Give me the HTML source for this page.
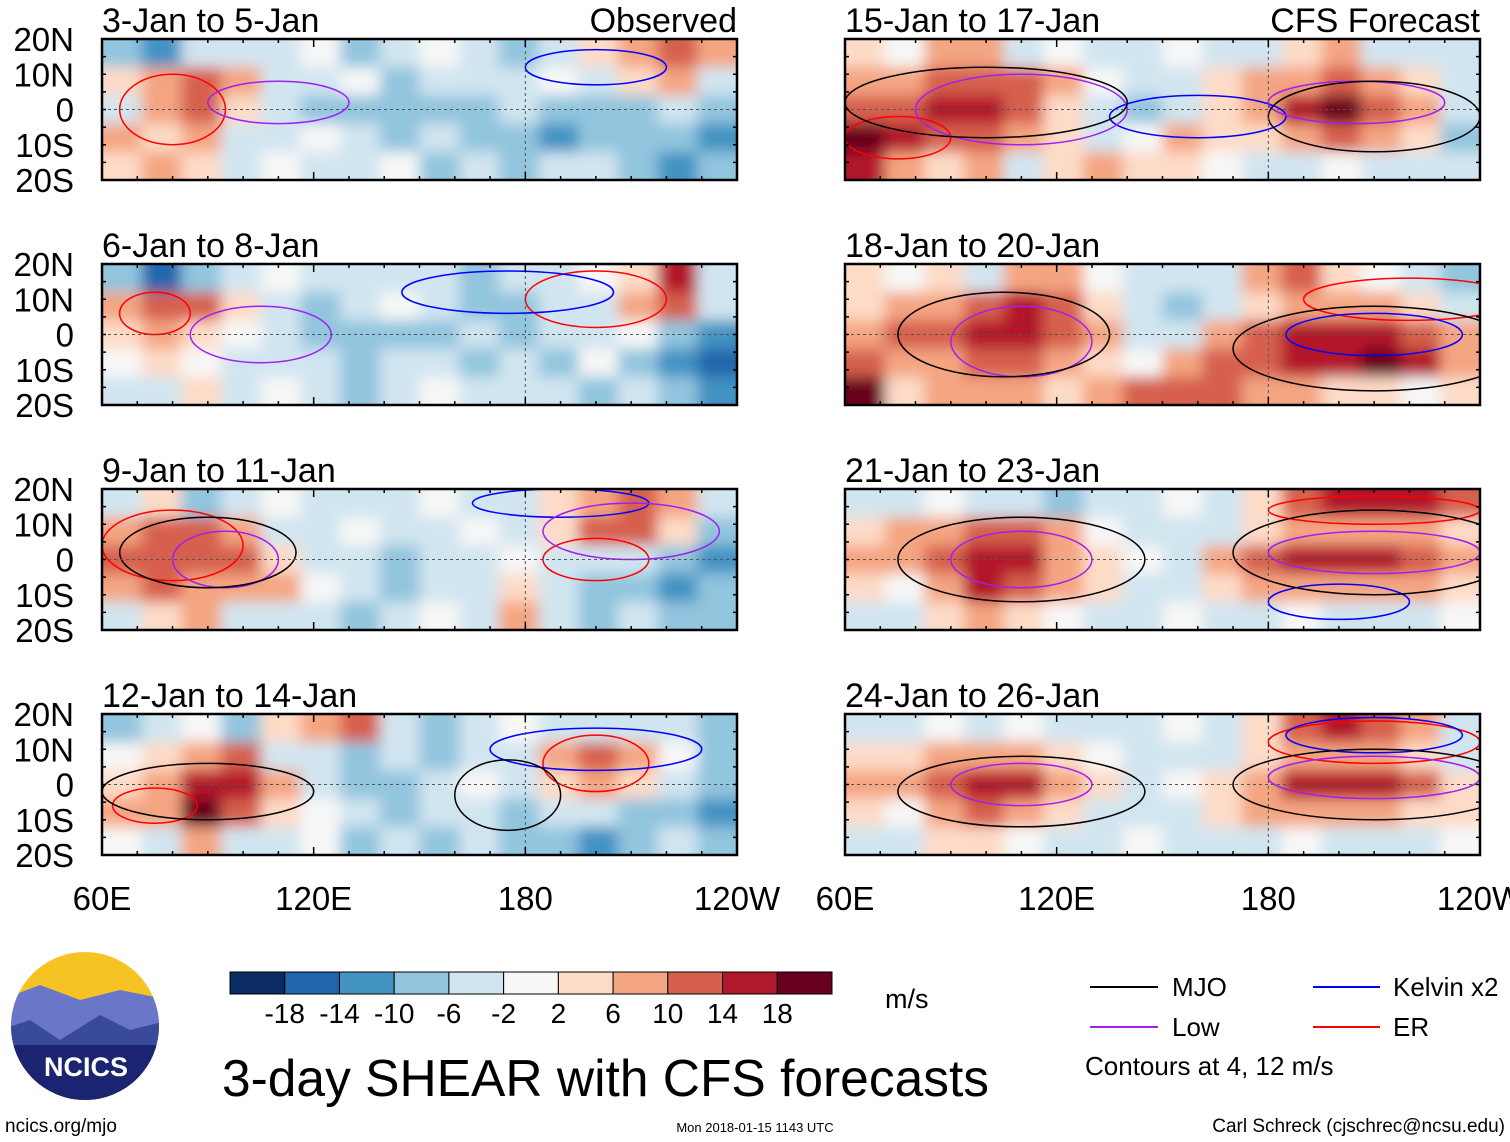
<!DOCTYPE html>
<html><head><meta charset="utf-8"><style>
body{margin:0;background:#fff;width:1510px;height:1142px;overflow:hidden;font-family:"Liberation Sans",sans-serif}
svg{position:absolute;left:0;top:0}
</style></head><body>
<svg id="chart" width="1510" height="1142" xmlns="http://www.w3.org/2000/svg">
<defs><filter id="blur" x="-5%" y="-5%" width="110%" height="110%"><feGaussianBlur stdDeviation="7"/></filter></defs>
</svg>
<script>
const panelTitles=["3-Jan to 5-Jan","6-Jan to 8-Jan","9-Jan to 11-Jan","12-Jan to 14-Jan","15-Jan to 17-Jan","18-Jan to 20-Jan","21-Jan to 23-Jan","24-Jan to 26-Jan"];
const latLabels=["20N","10N","0","10S","20S"];
const lonLabels=["60E","120E","180","120W"];
const levels=[-18,-14,-10,-6,-2,2,6,10,14,18];
const palette=["#0b2c63","#2166ac","#4393c3","#92c5de","#d1e5f0","#f7f7f7","#fddbc7","#f4a582","#d6604d","#b2182b","#67001f"];
const shear1=[[-8,-12,-6,-4,-6,-2,-8,-6,-2,-6,-8,-4,2,8,12,6],[2,8,10,6,-4,-6,-2,-8,-6,-4,-6,-2,-6,2,6,-4],[-4,6,10,4,-6,-8,-10,-8,-10,-8,-6,-8,-10,-8,-6,-8],[6,4,6,-4,-6,-2,-6,-8,-6,-8,-10,-12,-10,-8,-10,-14],[4,6,4,-6,-2,-4,-6,-2,-8,-6,-8,-6,-6,-8,-12,-8]];
const shear2=[[-8,-16,-10,-6,-2,-6,-4,-6,-6,-8,-6,-4,-2,4,14,-4],[8,12,10,4,-6,-8,-6,-2,-6,-8,-10,-6,-4,8,10,-6],[4,6,4,-2,-6,-8,-10,-8,-8,-6,-8,-6,-6,-2,-10,-14],[-2,4,-2,-6,-4,-6,-8,-6,-6,-8,-6,-8,-2,-8,-14,-18],[-4,-6,4,-6,-2,-6,-8,-6,-2,-6,-4,-6,-8,-6,-10,-12]];
const shear3=[[-6,4,-8,-6,-2,-6,-4,-6,-2,-6,-4,4,8,12,6,-6],[8,10,10,6,-4,-6,-2,-6,-4,-2,-6,4,10,10,4,-10],[10,12,12,10,4,-4,-6,-8,-6,-4,-2,-6,-4,-6,-8,-12],[8,10,8,6,8,-2,-6,-8,-6,-4,4,-6,-8,-10,-12,-10],[-4,4,6,-4,-6,-6,-8,-6,-2,-4,6,-6,-8,-6,-10,-8]];
const shear4=[[-8,-6,-2,-8,4,6,10,-6,-8,-6,-2,-6,-4,-6,-4,-10],[-2,4,8,10,-4,-6,-8,-6,-8,-6,-4,6,10,8,-2,-8],[4,8,16,14,6,-6,-8,-10,-6,-2,-6,4,8,4,-6,-10],[6,8,18,12,4,-2,-6,-8,-4,-6,-10,-6,-4,-8,-10,-12],[-2,-6,6,-4,-6,-2,-10,-6,-8,-6,-10,-8,-12,-8,-6,-10]];
const shear5=[[4,-2,6,8,-4,-2,-6,-4,-2,-6,-4,4,6,-4,-6,-4],[6,8,12,10,12,6,-2,-6,-4,4,6,8,10,8,4,-6],[12,10,16,16,12,4,-6,-8,-4,4,8,16,18,12,6,-6],[20,14,10,12,8,4,-6,-2,6,4,4,8,12,8,4,-8],[16,6,4,6,-4,4,6,4,4,-2,-4,-6,-2,-6,-4,-6]];
const shear6=[[4,-2,4,-6,6,8,-2,-6,-4,-6,6,10,4,-2,-6,-8],[4,6,8,12,14,10,4,-6,-8,-4,4,6,6,8,4,-4],[8,10,10,14,16,12,6,-4,-6,8,12,16,14,14,12,6],[12,6,8,12,12,6,4,-2,6,10,12,14,16,18,14,8],[18,4,6,8,6,4,8,10,12,10,8,6,4,4,-2,4]];
const shear7=[[-4,-6,-2,-4,-6,-8,-6,-4,-2,-6,4,10,16,14,16,12],[4,6,8,12,10,6,-2,-4,-6,-4,4,6,8,6,6,4],[6,8,12,16,14,8,4,-2,-4,6,10,14,14,14,12,8],[4,-2,8,14,12,8,4,-4,-6,4,6,8,8,8,6,4],[-6,-4,4,6,4,-2,-4,-6,-2,-4,-6,-2,-4,-6,-4,-2]];
const shear8=[[-4,-6,-2,-4,-2,-6,-4,-6,-2,-6,4,10,16,12,8,-4],[4,4,6,8,6,4,-2,-6,-4,-4,4,6,8,6,4,-4],[6,8,12,16,14,8,4,-4,-2,4,8,14,16,14,10,4],[4,-2,8,10,8,4,-4,-6,-4,4,6,8,8,6,4,4],[-6,-4,4,4,-2,-4,-6,-2,-4,-6,-4,-2,-4,-6,-4,-2]];
const fields=[shear1,shear2,shear3,shear4,shear5,shear6,shear7,shear8];
const cbLabels=["-18","-14","-10","-6","-2","2","6","10","14","18"];
// contour ellipses: [panel, lon, lat, lonRadius, latRadius]
const mjoContours=[[2,90,2,25,10],[3,90,-2,30,8],[3,175,-3,15,10],[4,100,2,40,10],[4,210,-2,30,10],[5,105,0,30,12],[5,210,-4,40,12],[6,110,0,35,12],[6,210,2,40,12],[7,110,-2,35,10],[7,210,0,40,10]];
const lowContours=[[0,110,2,20,6],[1,105,0,20,8],[2,95,0,15,8],[2,210,8,25,8],[4,110,0,30,10],[4,205,2,25,6],[5,110,-2,20,10],[6,110,0,20,8],[6,210,2,30,6],[7,110,0,20,6],[7,210,2,30,6]];
const kelvinContours=[[0,200,12,20,5],[1,175,12,30,6],[2,190,16,25,4],[3,200,10,30,6],[4,160,-2,25,6],[5,210,0,25,6],[6,200,-12,20,5],[7,210,14,25,5]];
const erContours=[[0,80,0,15,10],[1,75,6,10,6],[1,200,10,20,8],[2,80,4,20,10],[2,200,0,15,6],[3,75,-6,12,5],[3,200,6,15,8],[4,75,-8,15,6],[5,220,10,30,6],[6,210,14,30,4],[7,210,12,30,6]];

const NS="http://www.w3.org/2000/svg";
const svg=document.getElementById("chart");
function mk(tag,attrs,parent){const e=document.createElementNS(NS,tag);for(const k in attrs)e.setAttribute(k,attrs[k]);(parent||svg).appendChild(e);return e;}
function colorFor(v){let i=0;while(i<levels.length&&v>=levels[i])i++;return palette[i];}
const PW=635,PH=141;
const colX=[102,845],rowY=[39,264,489,714];
function xScale(x0,lon){return x0+(lon-60)/180*PW;}
function yScale(y0,lat){return y0+(20-lat)/40*PH;}
const inners=[];
fields.forEach((field,p)=>{
  const x0=colX[Math.floor(p/4)],y0=rowY[p%4];
  const g=mk("g",{});
  
  
  const cp=mk("clipPath",{id:"cp"+p},g);mk("rect",{x:x0,y:y0,width:PW,height:PH},cp);
  const inner=mk("g",{"clip-path":"url(#cp"+p+")"},g);
  inners.push({g,inner,x0,y0});
  const bg=mk("g",{filter:"url(#blur)"},inner);
  const nr=field.length,nc=field[0].length;
  const dLon=180/nc,dLat=40/nr;
  field.forEach((row,r)=>row.forEach((v,c)=>{
    const xa=xScale(x0,60+c*dLon),xb=xScale(x0,60+(c+1)*dLon);
    const ya=yScale(y0,20-r*dLat),yb=yScale(y0,20-(r+1)*dLat);
    const pad=(r==0?-20:0),padb=(r==nr-1?20:0),pl=(c==0?-20:0),pr=(c==nc-1?20:0);
    const cell=mk("rect",{x:xa+pl,y:ya+pad,width:xb-xa-pl+pr+0.5,height:yb-ya-pad+padb+0.5,fill:colorFor(v)},bg);
    
    
  }));
  mk("line",{x1:x0,x2:x0+PW,y1:yScale(y0,0),y2:yScale(y0,0),stroke:"#555","stroke-dasharray":"3,3","stroke-width":1},g);
  mk("line",{x1:xScale(x0,180),x2:xScale(x0,180),y1:y0,y2:y0+PH,stroke:"#555","stroke-dasharray":"3,3","stroke-width":1},g);
});
function drawContours(list,color,name){
  list.forEach(d=>{
    const P=inners[d[0]];
    const e=mk("ellipse",{cx:xScale(P.x0,d[1]),cy:yScale(P.y0,d[2]),rx:d[3]/180*PW,ry:d[4]/40*PH,fill:"none",stroke:color,"stroke-width":1.5},P.inner);
    
    
  });
}
drawContours(erContours,"#ff0000","er-contour");
drawContours(kelvinContours,"#0000ff","kelvin-contour");
drawContours(lowContours,"#a020f0","low-contour");
drawContours(mjoContours,"#000000","mjo-contour");
inners.forEach((P,p)=>{
  const g=P.g,x0=P.x0,y0=P.y0;
  mk("rect",{x:x0,y:y0,width:PW,height:PH,fill:"none",stroke:"#000","stroke-width":2.5},g);
  for(let lon=60;lon<=240;lon+=10){const x=xScale(x0,lon),L=(lon%60==0)?8:4;
    mk("line",{x1:x,x2:x,y1:y0,y2:y0+L,stroke:"#000","stroke-width":1.5},g);
    mk("line",{x1:x,x2:x,y1:y0+PH,y2:y0+PH-L,stroke:"#000","stroke-width":1.5},g);}
  for(let lat=-20;lat<=20;lat+=5){const y=yScale(y0,lat);
    mk("line",{x1:x0,x2:x0+4,y1:y,y2:y,stroke:"#000","stroke-width":1.5},g);
    mk("line",{x1:x0+PW,x2:x0+PW-4,y1:y,y2:y,stroke:"#000","stroke-width":1.5},g);}
  const t=mk("text",{x:x0,y:y0-7,"font-size":34},g);t.textContent=panelTitles[p];
  
  
  if(p%4==0){
    const lab=mk("text",{x:x0+PW,y:y0-7,"font-size":34,"text-anchor":"end"},g);
    lab.textContent=p==0?"Observed":"CFS Forecast";
    
    
  }
  if(p<4){latLabels.forEach((s,i)=>{
    const tl=mk("text",{x:74,y:y0+i*PH/4+12,"font-size":33,"text-anchor":"end"},g);tl.textContent=s;
    
    
  });}
});
colX.forEach(x0=>lonLabels.forEach((s,i)=>{
  const tl=mk("text",{x:x0+i*PW/3,y:910,"font-size":33,"text-anchor":"middle"});tl.textContent=s;
  
  
}));
const cb=mk("g",{});


const cbx=230,cbw=602/11;
palette.forEach((c,i)=>mk("rect",{x:cbx+i*cbw,y:972,width:cbw,height:22,fill:c,stroke:"#000","stroke-width":1},cb));
cbLabels.forEach((s,i)=>{const t=mk("text",{x:cbx+(i+1)*cbw,y:1023,"font-size":28,"text-anchor":"middle"},cb);t.textContent=s;});
</script>
<svg width="1510" height="1142" style="pointer-events:none" xmlns="http://www.w3.org/2000/svg">
<g>
<clipPath id="lc"><circle cx="85" cy="1026" r="74"/></clipPath>
<g clip-path="url(#lc)">
<rect x="0" y="950" width="170" height="160" fill="#f6c224"/>
<path d="M0 1000 L40 985 L80 1000 L120 990 L170 1000 L170 1110 L0 1110Z" fill="#6a76c8"/>
<path d="M0 1030 L30 1020 L60 1040 L100 1015 L130 1030 L170 1020 L170 1110 L0 1110Z" fill="#3a4a9a"/>
<path d="M0 1045 L170 1045 L170 1110 L0 1110Z" fill="#1b2470"/>
</g>
<text x="86" y="1076" font-size="27" font-weight="bold" fill="#fff" text-anchor="middle">NCICS</text>
</g>
<text x="885" y="1008" font-size="27">m/s</text>
<text x="222" y="1096" font-size="51.5">3-day SHEAR with CFS forecasts</text>
<g font-size="26">
<line x1="1090" x2="1158" y1="987" y2="987" stroke="#000" stroke-width="2"/><text x="1172" y="996">MJO</text>
<line x1="1090" x2="1158" y1="1027" y2="1027" stroke="#a020f0" stroke-width="2"/><text x="1172" y="1036">Low</text>
<line x1="1313" x2="1380" y1="987" y2="987" stroke="#0000ff" stroke-width="2"/><text x="1393" y="996">Kelvin x2</text>
<line x1="1313" x2="1380" y1="1027" y2="1027" stroke="#ff0000" stroke-width="2"/><text x="1393" y="1036">ER</text>
<text x="1085" y="1075" font-size="26">Contours at 4, 12 m/s</text>
</g>
<text x="5" y="1132" font-size="19">ncics.org/mjo</text>
<text x="755" y="1132" font-size="13" text-anchor="middle">Mon 2018-01-15 1143 UTC</text>
<text x="1505" y="1132" font-size="19" text-anchor="end">Carl Schreck (cjschrec@ncsu.edu)</text>
</svg>
</body></html>
